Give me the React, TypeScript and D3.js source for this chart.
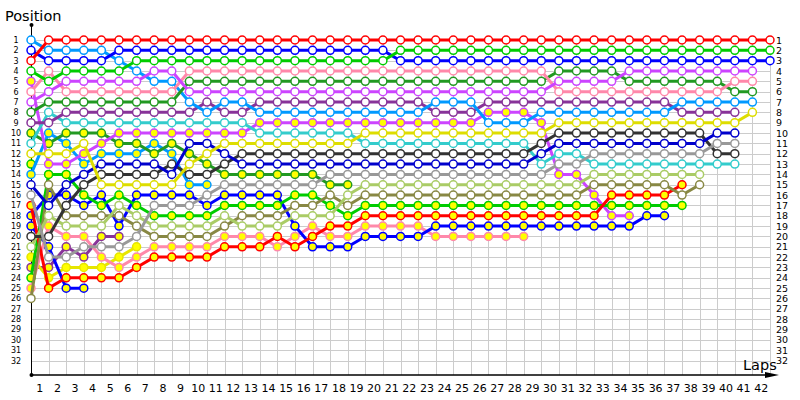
import React from "react";
import * as d3 from "d3";

// Lap numbers (x ticks) and positions (y ticks)
const lapLabels = ["1","2","3","4","5","6","7","8","9","10","11","12","13","14","15","16","17","18","19","20","21","22","23","24","25","26","27","28","29","30","31","32","33","34","35","36","37","38","39","40","41","42"];
const positionLabels = ["1","2","3","4","5","6","7","8","9","10","11","12","13","14","15","16","17","18","19","20","21","22","23","24","25","26","27","28","29","30","31","32"];

// Position per lap, index 0 = start grid
const red = [3,1,1,1,1,1,1,1,1,1,1, 1,1,1,1,1,1,1,1,1,1, 1,1,1,1,1,1,1,1,1,1, 1,1,1,1,1,1,1,1,1,1, 1,1];
const blue = [2,3,3,3,3,2,2,2,2,2,2, 2,2,2,2,2,2,2,2,2,2, 3,3,3,3,3,3,3,3,3,3, 3,3,3,3,3,3,3,3,3,3, 3,3];
const green = [4,5,4,4,4,4,3,3,3,3,3, 3,3,3,3,3,3,3,3,3,3, 2,2,2,2,2,2,2,2,2,2, 2,2,2,2,2,2,2,2,2,2, 2,2];
const pink = [6,4,6,6,6,6,6,6,6,4,4, 4,4,4,4,4,4,4,4,4,4, 4,4,4,4,4,4,4,4,4,6, 6,6,6,6,6,6,6,6,6,5, 5];
const darkGreen = [8,7,7,7,7,7,7,7,7,5,5, 5,5,5,5,5,5,5,5,5,5, 5,5,5,5,5,5,5,5,5,4, 4,4,4,5,5,5,5,5,5,6, 6];
const magenta = [7,6,5,5,5,5,5,4,4,6,6, 6,6,6,6,6,6,6,6,6,6, 6,6,6,6,6,6,6,6,6,5, 5,5,5,4,4,4,4,4,4,4, 4];
const lightBlue = [1,2,2,2,2,3,4,5,5,7,8, 7,7,8,8,8,8,8,8,8,8, 8,8,7,7,7,9,9,9,8,8, 8,8,8,8,8,8,7,7,7,7, 7];
const darkPurple = [9,9,8,8,8,8,8,8,8,8,7, 8,8,7,7,7,7,7,7,7,7, 7,7,8,8,8,7,7,7,7,7, 7,7,7,7,7,7,8,8,8,8];
const cyan = [11,8,9,9,9,9,9,9,9,9,9, 9,9,10,10,10,10,10,10,11,11, 11,11,11,11,11,11,11,11,13,12, 12,13,13,13,13,13,13,13,13,13];
const magentaY = [5,13,13,12,11,10,10,10,10,10,10, 10,10,9,9,9,9,9,9,9,9, 9,9,9,9,9,8,8,8,9,14, 14,16,18,18];
const yellow = [12,12,12,11,15,15,15,15,15,13,12, 11,11,11,11,11,11,11,11,10,10, 10,10,10,10,10,10,10,10,10,9, 9,9,9,9,9,9,9,9,9,9, 8];
const black = [20,20,17,15,14,14,14,14,13,14,14, 13,12,12,12,12,12,12,12,12,12, 12,12,12,12,12,12,12,12,11,10, 10,10,10,10,10,10,10,10,12,12];
const darkBlue = [15,17,15,14,13,13,13,13,14,11,11, 12,13,13,13,13,13,13,13,13,13, 13,13,13,13,13,13,13,13,12,11, 11,11,11,11,11,11,11,11,10,10];
const darkGreenY = [10,11,10,10,10,11,11,12,11,12,13, 14,14,14,14,14,14,15,15];
const lightBlueY = [14,10,11,13,12,12,12,11,12,15,15];
const gray = [16,22,22,21,21,21,20,17,17,17,16, 15,15,15,15,15,15,14,14,14,14, 14,14,14,14,14,14,14,14,14,13, 13,12,12,12,12,12,12,12,11,11];
const blueY = [18,16,16,17,16,19,16,16,16,16,17, 16,16,16,16,19,21,21,21,20,20, 20,20,19,19,19,19,19,19,19,19, 19,19,19,19,18,18];
const greenY = [24,14,14,16,17,16,17,18,18,18,18, 17,17,17,17,16,16,17,18,17,17, 17,17,17,17,17,17,17,17,17,17, 17,17,17,17,17,17,17];
const lightOlive = [21,18,19,19,19,17,18,19,19,19,19, 18,19,19,19,18,18,18,16,15,15, 15,15,15,15,15,15,15,15,15,15, 15,14,14,14,14,14,14,14];
const olive = [26,15,18,18,18,18,19,20,20,20,20, 19,18,18,18,17,17,16,17,16,16, 16,16,16,16,16,16,16,16,16,16, 16,15,15,15,15,15,16,15];
const pinkY = [25,19,20,20,22,23,22,21,21,21,21, 20,20,20,21,20,19,20,20,19,19, 19,19,20,20,20,20,20,20];
const redY = [17,25,24,24,24,24,23,22,22,22,22, 21,21,21,20,21,20,19,19,18,18, 18,18,18,18,18,18,18,18,18,18, 18,18,16,16,16,16,15];
const blueY2 = [19,21,25,25];
const yellowY = [22,24,23,23,23,22,21];
const purpleY = [23,23,21,22,20,20];
const greenY2 = [13];

type Series = { values: number[]; color: string; fill: string };

const WHITE = "#ffffff";
const YEL = "#ffff00";

// drawn in this order (last on top)
const series: Series[] = [
  { values: greenY2, color: "#00cc00", fill: YEL },
  { values: purpleY, color: "#883399", fill: YEL },
  { values: yellowY, color: "#e6e600", fill: YEL },
  { values: blueY2, color: "#0000ff", fill: YEL },
  { values: pinkY, color: "#ff88aa", fill: YEL },
  { values: lightBlueY, color: "#0099ff", fill: YEL },
  { values: darkGreenY, color: "#229922", fill: YEL },
  { values: magentaY, color: "#cc44ff", fill: YEL },
  { values: blueY, color: "#0000ff", fill: YEL },
  { values: greenY, color: "#00cc00", fill: YEL },
  { values: redY, color: "#ff0000", fill: YEL },
  { values: olive, color: "#888844", fill: WHITE },
  { values: lightOlive, color: "#aacc66", fill: WHITE },
  { values: cyan, color: "#33cccc", fill: WHITE },
  { values: black, color: "#333333", fill: WHITE },
  { values: gray, color: "#999999", fill: WHITE },
  { values: darkBlue, color: "#0000cc", fill: WHITE },
  { values: yellow, color: "#dddd00", fill: WHITE },
  { values: darkPurple, color: "#883399", fill: WHITE },
  { values: lightBlue, color: "#0099ff", fill: WHITE },
  { values: darkGreen, color: "#229922", fill: WHITE },
  { values: pink, color: "#ff88aa", fill: WHITE },
  { values: magenta, color: "#cc44ff", fill: WHITE },
  { values: blue, color: "#0000ff", fill: WHITE },
  { values: green, color: "#00cc00", fill: WHITE },
  { values: red, color: "#ff0000", fill: WHITE },
];

const W = 800;
const H = 400;
const FONT = "'DejaVu Sans', Verdana, sans-serif";

export default function App() {
  const x = d3.scaleLinear().domain([0, lapLabels.length]).range([31, 770]);
  const y = d3.scaleLinear().domain([1, positionLabels.length]).range([40, 360.5]);
  const axisY = 375;
  const line = d3
    .line<number>()
    .x((_, i) => x(i))
    .y((d) => y(d));

  return (
    <svg
      width={W}
      height={H}
      style={{ position: "absolute", left: 0, top: 0, background: "#fff" }}
      fontFamily={FONT}
    >
      <rect x={0} y={0} width={W} height={H} fill="#fff" />
      {/* grid */}
      <g stroke="#cccccc" strokeWidth={1} shapeRendering="crispEdges">
        {positionLabels.map((p, i) => (
          <line key={"h" + p} x1={x(0)} x2={x(lapLabels.length)} y1={Math.round(y(i + 1)) + 0.5} y2={Math.round(y(i + 1)) + 0.5} />
        ))}
        {lapLabels.map((l, i) => (
          <line key={"v" + l} x1={Math.round(x(i + 1)) + 0.5} x2={Math.round(x(i + 1)) + 0.5} y1={y(1)} y2={axisY} />
        ))}
      </g>
      {/* axes */}
      <line x1={31.5} x2={31.5} y1={25} y2={axisY} stroke="#000" strokeWidth={1} />
      <circle cx={31.5} cy={25} r={2} fill="#000" />
      <line x1={31} x2={770} y1={axisY} y2={axisY} stroke="#000" strokeWidth={1.5} />
      <path d={`M765,${axisY - 3} L779,${axisY} L765,${axisY + 3} Z`} fill="#000" />
      <circle cx={31.5} cy={axisY} r={2} fill="#000" />
      {/* titles */}
      <text x={5} y={21} fontSize={14.5} fill="#000">Position</text>
      <text x={743} y={370} fontSize={14.5} fill="#000">Laps</text>
      {/* left labels */}
      {positionLabels.map((p, i) => (
        <text key={"l" + p} x={16} y={y(i + 1) + 3} fontSize={8} textAnchor="middle" fill="#000">{p}</text>
      ))}
      {/* right labels */}
      {positionLabels.map((p, i) => (
        <text key={"r" + p} x={776} y={y(i + 1) + 3.5} fontSize={9.5} textAnchor="start" fill="#000">{p}</text>
      ))}
      {/* bottom labels */}
      {lapLabels.map((l, i) => (
        <text key={"b" + l} x={(x(i) + x(i + 1)) / 2} y={392} fontSize={11} textAnchor="middle" fill="#000">{l}</text>
      ))}
      {/* series */}
      {series.map((s, si) => (
        <g key={"s" + si}>
          {s.values.length > 1 && (
            <path d={line(s.values) || ""} fill="none" stroke={s.color} strokeWidth={3} strokeLinejoin="round" />
          )}
          {s.values.map((v, i) => (
            <circle key={i} cx={x(i)} cy={y(v)} r={4} fill={s.fill} stroke={s.color} strokeWidth={1.5} />
          ))}
        </g>
      ))}
    </svg>
  );
}
